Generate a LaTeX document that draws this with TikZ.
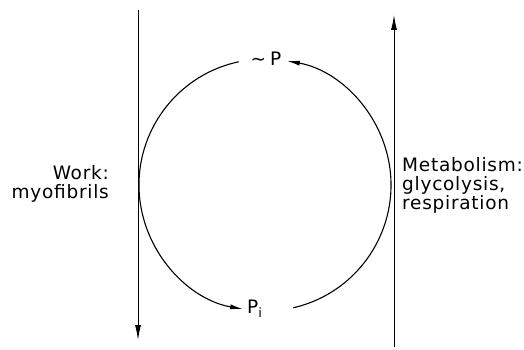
\documentclass[tikz,border=0pt]{standalone}
\usepackage{fontspec}
\usepackage{tikz}
\usetikzlibrary{positioning, arrows.meta}
\setmainfont{DejaVu Sans}[LetterSpace=4]

\tikzset{
  cycle/.style={line width=1.1pt, -{Latex[length=13pt,width=5pt]}},
  flux/.style={line width=0.9pt, -{Latex[length=15pt,width=6pt]}},
  sidetext/.style={inner sep=0pt}
}

\begin{document}
\begin{tikzpicture}[x=1pt, y=1pt, font=\fontsize{18.5}{19}\selectfont]
  \useasboundingbox (0,0) rectangle (524,349);
  \coordinate (hub) at (265,164);
  % work drains, metabolism feeds
  \coordinate (worktop) at (138,339);
  \coordinate (workend) at (138,9);
  \coordinate (metbase) at (394,2);
  \coordinate (mettop) at (394,334);
  \draw[flux] (worktop) -- (workend);
  \draw[flux] (metbase) -- (mettop);
  % the phosphate cycle
  \draw[cycle] ([shift={(-77:126)}]hub) arc[start angle=-77, end angle=80, radius=126];
  \draw[cycle] ([shift={(102:126)}]hub) arc[start angle=102, end angle=260, radius=126];
  \node (hienergy) at (266,290) {\textasciitilde\hspace{4pt}P};
  \node[sidetext, anchor=west] (phos) at (247,40) {P\textsubscript{i}};
  \node[sidetext, anchor=east, align=right] (work) at (109,165) {Work:\\myofibrils};
  \node[sidetext, anchor=west, align=left] (metab) at (402,164) {Metabolism:\\glycolysis,\\respiration};
\end{tikzpicture}
\end{document}
